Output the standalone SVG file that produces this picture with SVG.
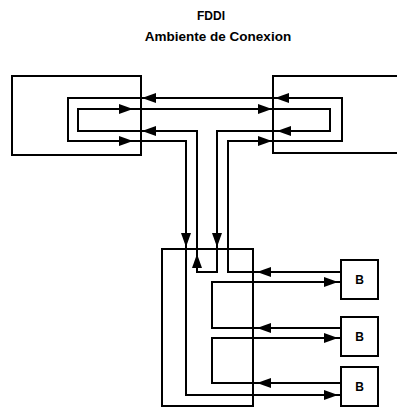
<svg xmlns="http://www.w3.org/2000/svg" xmlns:xlink="http://www.w3.org/1999/xlink" width="397" height="408" viewBox="0 0 397 408">
<style>
.box{fill:none;stroke:#000;stroke-width:2}
.ln{fill:none;stroke:#000;stroke-width:2;stroke-linejoin:miter}
.t{font-family:"Liberation Sans",Arial,sans-serif;font-weight:bold;fill:#000}
</style>
<defs>
<path id="ah" d="M0,0 L-14,-5 L-14,5 Z" fill="#000"/>
</defs>
<rect width="397" height="408" fill="#fff"/>
<g id="title">
<text class="t" x="211" y="20" font-size="12" text-anchor="middle">FDDI</text>
<text class="t" x="218" y="41" font-size="13.5" text-anchor="middle">Ambiente de Conexion</text>
</g>
<g id="left-station"><rect class="box" x="12" y="76" width="129" height="79"/></g>
<g id="right-station"><path class="box" d="M400,76 H273 V153 H400"/></g>
<g id="concentrator"><rect class="box" x="162" y="249" width="91" height="157"/></g>
<g id="B1"><rect class="box" x="341" y="260" width="37" height="39"/><text class="t" x="359.5" y="283.5" font-size="12" text-anchor="middle">B</text></g>
<g id="B2"><rect class="box" x="341" y="317" width="37" height="39"/><text class="t" x="359.5" y="340.5" font-size="12" text-anchor="middle">B</text></g>
<g id="B3"><rect class="box" x="341" y="367" width="37" height="39"/><text class="t" x="359.5" y="390.5" font-size="12" text-anchor="middle">B</text></g>
<g id="connectors">
<path class="ln" d="M341,272 H228 V141 H342 V98 H68 V141 H186 V395 H341"/>
<path class="ln" d="M78,109 H330 V131 H217 V272 H197 V131 H78 Z"/>
<path class="ln" d="M341,328 H212 V282 H341"/>
<path class="ln" d="M341,383 H212 V338 H341"/>
<use xlink:href="#ah" transform="translate(133,141)"/>
<use xlink:href="#ah" transform="translate(133,109)"/>
<use xlink:href="#ah" transform="translate(272,109)"/>
<use xlink:href="#ah" transform="translate(272,141)"/>
<use xlink:href="#ah" transform="translate(142,98) rotate(180)"/>
<use xlink:href="#ah" transform="translate(142,131) rotate(180)"/>
<use xlink:href="#ah" transform="translate(275,98) rotate(180)"/>
<use xlink:href="#ah" transform="translate(277,131) rotate(180)"/>
<use xlink:href="#ah" transform="translate(186,247) rotate(90)"/>
<use xlink:href="#ah" transform="translate(217,247) rotate(90)"/>
<use xlink:href="#ah" transform="translate(197,254) rotate(-90)"/>
<use xlink:href="#ah" transform="translate(257,272) rotate(180)"/>
<use xlink:href="#ah" transform="translate(257,328) rotate(180)"/>
<use xlink:href="#ah" transform="translate(257,383) rotate(180)"/>
<use xlink:href="#ah" transform="translate(338,282)"/>
<use xlink:href="#ah" transform="translate(338,338)"/>
<use xlink:href="#ah" transform="translate(338,395)"/>
</g>
</svg>
